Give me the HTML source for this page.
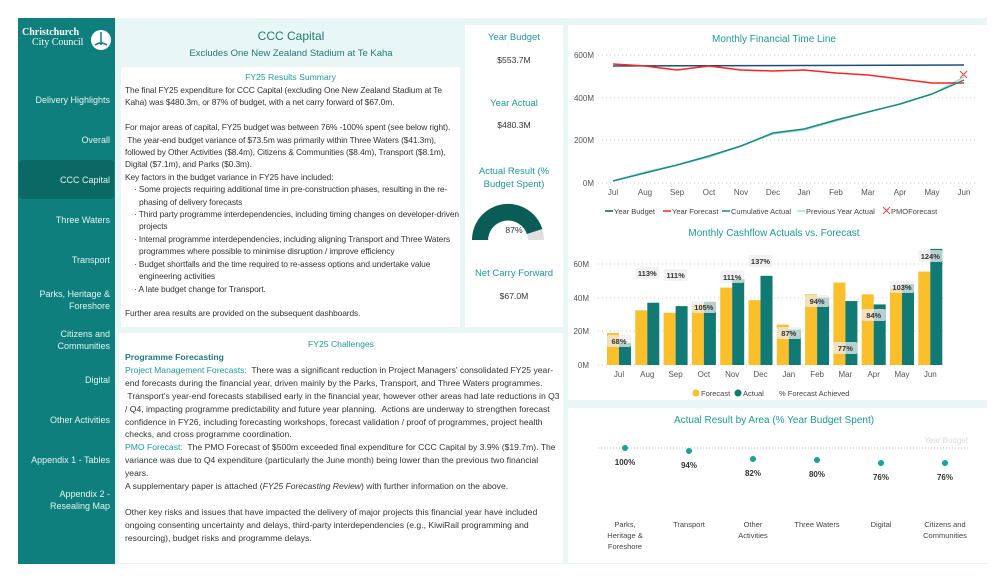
<!DOCTYPE html>
<html><head><meta charset="utf-8"><style>
*{margin:0;padding:0;box-sizing:border-box}
body{width:1003px;height:581px;background:#fff;font-family:"Liberation Sans",sans-serif;position:relative;overflow:hidden;color:#333}
.a{position:absolute}
.nav{position:absolute;left:18px;color:#e4f4f3;font-size:9px;text-align:right;line-height:12px;width:92px}
.p{background:#fff;position:absolute}
.t{color:#1a9c96}
.body{font-size:8.4px;line-height:12.4px;color:#333}
.b{padding-left:14px;text-indent:-5px}
</style></head><body>
<div class="a" style="left:18px;top:18px;width:969px;height:546px;background:#e8f6f6"></div>
<div class="a" style="left:18px;top:18px;width:97px;height:546px;background:#0e7f7c"></div>
<div class="a" style="left:19px;top:160px;width:95px;height:39px;background:#0a6865;border-radius:4px"></div>
<div class="a" style="left:22px;top:28px;color:#fff;font-family:'Liberation Serif',serif;font-weight:bold;font-size:10px;line-height:10px">Christchurch<br><span style="font-weight:normal;padding-left:10px">City Council</span></div>
<svg class="a" style="left:90px;top:29px" width="22" height="22"><circle cx="11" cy="11" r="10" fill="#fff"/><path d="M11 3 L11 16 M5 16 Q11 12 17 16" stroke="#0e7f7c" stroke-width="1.5" fill="none"/></svg>
<div class="nav" style="top:94px">Delivery Highlights</div>
<div class="nav" style="top:134px">Overall</div>
<div class="nav" style="top:174px">CCC Capital</div>
<div class="nav" style="top:214px">Three Waters</div>
<div class="nav" style="top:254px">Transport</div>
<div class="nav" style="top:288px">Parks, Heritage &amp;<br>Foreshore</div>
<div class="nav" style="top:328px">Citizens and<br>Communities</div>
<div class="nav" style="top:374px">Digital</div>
<div class="nav" style="top:414px">Other Activities</div>
<div class="nav" style="top:454px">Appendix 1 - Tables</div>
<div class="nav" style="top:488px">Appendix 2 -<br>Resealing Map</div>

<div class="a t" style="left:121px;top:29px;width:340px;text-align:center;font-size:12px;color:#1e7a77">CCC Capital</div>
<div class="a t" style="left:121px;top:48px;width:340px;text-align:center;font-size:9.5px;color:#1e7a77">Excludes One New Zealand Stadium at Te Kaha</div>

<div class="p" style="left:121px;top:67px;width:339px;height:260px"></div>
<div class="a t" style="left:121px;top:72px;width:339px;text-align:center;font-size:8.6px">FY25 Results Summary</div>
<div class="a body" style="left:125px;top:84px;width:336px;letter-spacing:-0.1px">The final FY25 expenditure for CCC Capital (excluding One New Zealand Stadium at Te Kaha) was $480.3m, or 87% of budget, with a net carry forward of $67.0m.<br><br>For major areas of capital, FY25 budget was between 76% -100% spent (see below right). &nbsp;The year-end budget variance of $73.5m was primarily within Three Waters ($41.3m), followed by Other Activities ($8.4m), Citizens &amp; Communities ($8.4m), Transport ($8.1m), Digital ($7.1m), and Parks ($0.3m).<br>Key factors in the budget variance in FY25 have included:
<div class="b">· Some projects requiring additional time in pre-construction phases, resulting in the re-phasing of delivery forecasts</div><div class="b">· Third party programme interdependencies, including timing changes on developer-driven projects</div><div class="b">· Internal programme interdependencies, including aligning Transport and Three Waters programmes where possible to minimise disruption / improve efficiency</div><div class="b">· Budget shortfalls and the time required to re-assess options and undertake value engineering activities</div><div class="b">· A late budget change for Transport.</div><br>Further area results are provided on the subsequent dashboards.</div>

<div class="p" style="left:465px;top:25px;width:98px;height:302px"></div>
<div class="a t" style="left:465px;top:32px;width:98px;text-align:center;font-size:9.5px">Year Budget</div>
<div class="a" style="left:465px;top:55px;width:98px;text-align:center;font-size:8.6px">$553.7M</div>
<div class="a t" style="left:465px;top:98px;width:98px;text-align:center;font-size:9.5px">Year Actual</div>
<div class="a" style="left:465px;top:120px;width:98px;text-align:center;font-size:8.6px">$480.3M</div>
<div class="a t" style="left:465px;top:165px;width:98px;text-align:center;font-size:9.5px;line-height:13px">Actual Result (%<br>Budget Spent)</div>
<svg class="a" style="left:465px;top:195px" width="98" height="50">
<path d="M7 45 A36 36 0 0 1 79 45 L63 45 A20 20 0 0 0 23 45 Z" fill="#e0e0e0"/>
<path d="M7 45 A36 36 0 0 1 77.3 34 L61.9 39 A20 20 0 0 0 23 45 Z" fill="#0a5c56"/>
<text x="49" y="38" font-size="8.6" text-anchor="middle" fill="#333" font-family="Liberation Sans">87%</text></svg>
<div class="a t" style="left:465px;top:268px;width:98px;text-align:center;font-size:9.5px">Net Carry Forward</div>
<div class="a" style="left:465px;top:291px;width:98px;text-align:center;font-size:8.6px">$67.0M</div>

<div class="p" style="left:119px;top:333px;width:444px;height:230px"></div>
<div class="a t" style="left:119px;top:339px;width:444px;text-align:center;font-size:8.6px">FY25 Challenges</div>
<div class="a body" style="left:125px;top:351px;width:436px;font-size:8.6px;line-height:12.9px"><b style="color:#1e7a77">Programme Forecasting</b><br><span class="t">Project Management Forecasts:</span>&nbsp; There was a significant reduction in Project Managers' consolidated FY25 year-end forecasts during the financial year, driven mainly by the Parks, Transport, and Three Waters programmes. &nbsp;Transport's year-end forecasts stabilised early in the financial year, however other areas had late reductions in Q3 / Q4, impacting programme predictability and future year planning. &nbsp;Actions are underway to strengthen forecast confidence in FY26, including forecasting workshops, forecast validation / proof of programmes, project health checks, and cross programme coordination.<br><span class="t">PMO Forecast:</span>&nbsp; The PMO Forecast of $500m exceeded final expenditure for CCC Capital by 3.9% ($19.7m). The variance was due to Q4 expenditure (particularly the June month) being lower than the previous two financial years.<br>A supplementary paper is attached (<i>FY25 Forecasting Review</i>) with further information on the above.<br><br>Other key risks and issues that have impacted the delivery of major projects this financial year have included ongoing consenting uncertainty and delays, third-party interdependencies (e.g., KiwiRail programming and resourcing), budget risks and programme delays.</div>

<div class="p" style="left:568px;top:25px;width:419px;height:375px"></div>
<div class="p" style="left:568px;top:408px;width:419px;height:155px"></div>
<svg class="a" style="left:0;top:0" width="1003" height="581" font-family="Liberation Sans">
<text x="774" y="42" font-size="10" fill="#1a9c96" text-anchor="middle">Monthly Financial Time Line</text>
<g stroke="#ccc" stroke-dasharray="1,3"><line x1="598" x2="975" y1="55" y2="55"/><line x1="598" x2="975" y1="98" y2="98"/><line x1="598" x2="975" y1="140" y2="140"/><line x1="598" x2="975" y1="183" y2="183"/></g>
<g font-size="8" fill="#555" text-anchor="end"><text x="594" y="58">600M</text><text x="594" y="101">400M</text><text x="594" y="143">200M</text><text x="594" y="186">0M</text></g>
<g font-size="8" fill="#555" text-anchor="middle"><text x="613" y="195">Jul</text><text x="645" y="195">Aug</text><text x="677" y="195">Sep</text><text x="709" y="195">Oct</text><text x="741" y="195">Nov</text><text x="773" y="195">Dec</text><text x="804" y="195">Jan</text><text x="836" y="195">Feb</text><text x="868" y="195">Mar</text><text x="900" y="195">Apr</text><text x="932" y="195">May</text><text x="964" y="195">Jun</text></g>
<polyline fill="none" stroke="#9fe0dc" stroke-width="1.5" points="613,181 645,172 677,165 709,157 741,146 773,134 804,130 836,121 868,112 900,104 932,94 964,77"/>
<polyline fill="none" stroke="#1a4f7a" stroke-width="1.5" points="613,66 964,65"/>
<polyline fill="none" stroke="#f22" stroke-width="1.5" points="613,64 645,66 677,70 709,66 741,70 773,71 804,70 836,73 868,75 900,79 932,83 964,83"/>
<polyline fill="none" stroke="#188a84" stroke-width="1.5" points="613,181 645,173 677,165 709,156 741,146 773,133 804,129 836,120 868,112 900,104 932,94 964,80"/>
<path d="M960 71 l7 7 M967 71 l-7 7" stroke="#e44" stroke-width="1"/>
<g font-size="7.5" fill="#444"><line x1="605" x2="613" y1="211" y2="211" stroke="#1a4f7a" stroke-width="1.5"/><text x="614" y="214">Year Budget</text>
<line x1="663" x2="671" y1="211" y2="211" stroke="#f22" stroke-width="1.5"/><text x="672" y="214">Year Forecast</text>
<line x1="722" x2="730" y1="211" y2="211" stroke="#188a84" stroke-width="1.5"/><text x="731" y="214">Cumulative Actual</text>
<line x1="797" x2="805" y1="211" y2="211" stroke="#9fe0dc" stroke-width="1.5"/><text x="806" y="214">Previous Year Actual</text>
<path d="M883 207 l7 7 M890 207 l-7 7" stroke="#e44"/><text x="891" y="214">PMOForecast</text></g>
<text x="774" y="236" font-size="10" fill="#1a9c96" text-anchor="middle">Monthly Cashflow Actuals vs. Forecast</text>
<g stroke="#ccc" stroke-dasharray="1,3"><line x1="598" x2="945" y1="264" y2="264"/><line x1="598" x2="945" y1="298" y2="298"/><line x1="598" x2="945" y1="331" y2="331"/><line x1="598" x2="945" y1="365" y2="365"/></g>
<g font-size="8" fill="#555" text-anchor="end"><text x="589" y="267">60M</text><text x="589" y="301">40M</text><text x="589" y="334">20M</text><text x="589" y="368">0M</text></g>
<g id="bars"></g>
<g font-size="8" fill="#555" text-anchor="middle" id="bx"></g>
<g font-size="7.5" fill="#444"><circle cx="696" cy="393" r="3.5" fill="#fbbf2c"/><text x="701" y="396">Forecast</text><circle cx="738" cy="393" r="3.5" fill="#117a74"/><text x="743" y="396">Actual</text><text x="779" y="396">% Forecast Achieved</text></g>
<text x="774" y="423" font-size="10" fill="#1a9c96" text-anchor="middle">Actual Result by Area (% Year Budget Spent)</text>
<text x="968" y="443" font-size="8" fill="#ddd" text-anchor="end">Year Budget</text>
<line x1="598" x2="970" y1="448" y2="448" stroke="#bbb" stroke-dasharray="1,2"/>
<g font-size="8" fill="#333" text-anchor="middle" font-weight="bold">
<circle cx="625" cy="448" r="3" fill="#17a39c"/><text x="625" y="465">100%</text>
<circle cx="689" cy="451" r="3" fill="#17a39c"/><text x="689" y="468">94%</text>
<circle cx="753" cy="459" r="3" fill="#17a39c"/><text x="753" y="476">82%</text>
<circle cx="817" cy="460" r="3" fill="#17a39c"/><text x="817" y="477">80%</text>
<circle cx="881" cy="463" r="3" fill="#17a39c"/><text x="881" y="480">76%</text>
<circle cx="945" cy="463" r="3" fill="#17a39c"/><text x="945" y="480">76%</text></g>
<g font-size="7.5" fill="#444" text-anchor="middle">
<text x="625" y="527">Parks,</text><text x="625" y="538">Heritage &amp;</text><text x="625" y="549">Foreshore</text>
<text x="689" y="527">Transport</text><text x="753" y="527">Other</text><text x="753" y="538">Activities</text>
<text x="817" y="527">Three Waters</text><text x="881" y="527">Digital</text><text x="945" y="527">Citizens and</text><text x="945" y="538">Communities</text></g>
</svg>
<script>
var m=["Jul","Aug","Sep","Oct","Nov","Dec","Jan","Feb","Mar","Apr","May","Jun"];
var f=[19,32.5,31,36,46,38.5,24,42,49,42,46,55.5],a=[13,37,35,37.5,51,53,21,40,38,36,48,69];
var p=["68%","113%","111%","105%","111%","137%","87%","94%","77%","84%","103%","124%"];
var ly=[344,276,278,310,280,264,336,304,351,318,290,259];
var s="",t="",k=1.683;
for(var i=0;i<12;i++){var x=607+i*28.3;
s+='<rect x="'+x+'" y="'+(365-f[i]*k)+'" width="12" height="'+f[i]*k+'" fill="#fbbf2c"/>';
s+='<rect x="'+(x+12)+'" y="'+(365-a[i]*k)+'" width="12" height="'+a[i]*k+'" fill="#117a74"/>';
s+='<rect x="'+(x)+'" y="'+(ly[i]-9)+'" width="24" height="12" rx="2" fill="#eee" opacity="0.75"/>';
s+='<text x="'+(x+12)+'" y="'+ly[i]+'" font-size="7.5" font-weight="bold" fill="#333" text-anchor="middle">'+p[i]+'</text>';
t+='<text x="'+(x+12)+'" y="377">'+m[i]+'</text>';}
document.getElementById("bars").innerHTML=s;document.getElementById("bx").innerHTML=t;
</script>
</body></html>
